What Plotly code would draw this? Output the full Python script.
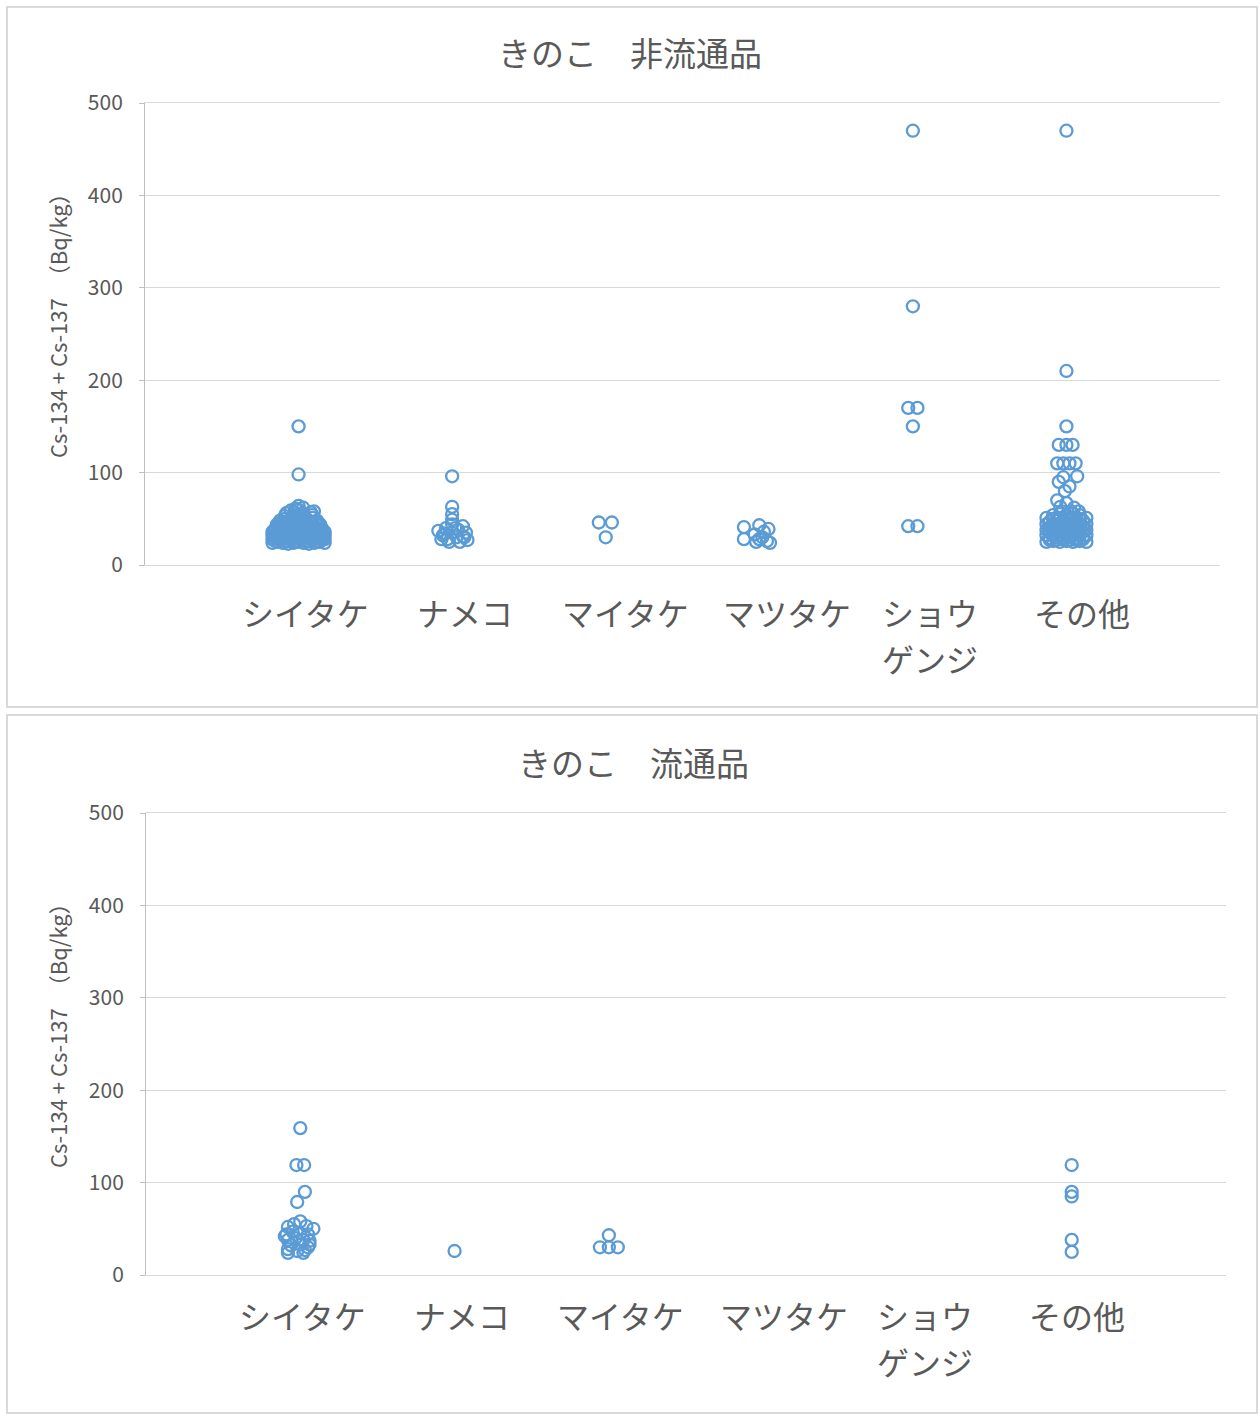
import plotly.graph_objects as go

# ---------------- data ----------------
category_labels = ["シイタケ", "ナメコ", "マイタケ", "マツタケ", "ショウ<br>ゲンジ", "その他"]
y_tick_values = [0, 100, 200, 300, 400, 500]
titles = ["きのこ　非流通品", "きのこ　流通品"]
y_title = "Cs-134 + Cs-137　（Bq/kg）"

# Top panel (非流通品): x jitter offsets (around category index) and values (Bq/kg)
top_shiitake_dx = [0, 0,
                   -0.17, -0.136, -0.102, -0.068, -0.034, 0.0, 0.034, 0.068, 0.102, 0.136, 0.17,
                   -0.153, -0.119, -0.085, -0.051, -0.017, 0.017, 0.051, 0.085, 0.119, 0.153,
                   -0.17, -0.136, -0.102, -0.068, -0.034, 0.0, 0.034, 0.068, 0.102, 0.136, 0.17,
                   -0.153, -0.119, -0.085, -0.051, -0.017, 0.017, 0.051, 0.085, 0.119, 0.153,
                   -0.17, -0.136, -0.102, -0.068, -0.034, 0.0, 0.034, 0.068, 0.102, 0.136, 0.17,
                   -0.153, -0.119, -0.085, -0.051, -0.017, 0.017, 0.051, 0.085, 0.119, 0.153,
                   -0.17, -0.136, -0.102, -0.068, -0.034, 0.0, 0.034, 0.068, 0.102, 0.136, 0.17,
                   -0.153, -0.119, -0.085, -0.051, -0.017, 0.017, 0.051, 0.085, 0.119, 0.153,
                   -0.15, -0.10, -0.05, 0.0, 0.05, 0.10, 0.15,
                   -0.125, -0.075, -0.025, 0.025, 0.075, 0.125,
                   -0.14, -0.093, -0.047, 0.0, 0.047, 0.093, 0.14,
                   -0.115, -0.069, -0.023, 0.023, 0.069, 0.115,
                   -0.12, -0.06, 0.0, 0.06, 0.12,
                   -0.09, -0.03, 0.03, 0.09,
                   -0.09, -0.03, 0.03, 0.09,
                   -0.08, -0.027, 0.027, 0.08,
                   -0.05, 0.0, 0.10,
                   -0.02, 0.03,
                   0.0]
top_shiitake_v = [150, 98,
                  24, 25, 24, 23, 24, 25, 24, 23, 24, 25, 24,
                  26, 27, 26, 27, 26, 27, 26, 27, 26, 27,
                  28, 29, 28, 29, 28, 29, 28, 29, 28, 29, 28,
                  30, 31, 30, 31, 30, 31, 30, 31, 30, 31,
                  32, 33, 32, 33, 32, 33, 32, 33, 32, 33, 32,
                  34, 35, 34, 35, 34, 35, 34, 35, 34, 35,
                  36, 37, 36, 37, 36, 37, 36, 37, 36, 37, 36,
                  38, 39, 38, 39, 38, 39, 38, 39, 38, 39,
                  40, 41, 40, 41, 40, 41, 40,
                  42, 43, 42, 43, 42, 43,
                  44, 45, 44, 45, 44, 45, 44,
                  46, 47, 46, 47, 46, 47,
                  48, 49, 48, 49, 48,
                  50, 51, 50, 51,
                  53, 54, 53, 54,
                  56, 57, 56, 57,
                  59, 60, 58,
                  61, 62,
                  64]

top_nameko_dx = [0, 0, 0, 0, 0, -0.09, -0.06, -0.03, 0.0, 0.03, 0.07, 0.09, 0.10,
                 -0.02, 0.05, -0.07, 0.04, -0.04, 0.07, -0.05, 0.02, 0.08]
top_nameko_v = [96, 63, 55, 49, 44, 37, 32, 28, 35, 30, 42, 35, 27,
                25, 25, 28, 38, 40, 31, 34, 40, 30]

top_maitake_dx = [-0.045, 0.04, 0.0]
top_maitake_v = [46, 46, 30]

top_matsutake_dx = [-0.10, -0.10, 0.0, 0.06, -0.03, 0.02, 0.05, -0.02, 0.07, 0.03, 0.0]
top_matsutake_v = [41, 28, 43, 39, 33, 30, 26, 25, 24, 36, 28]

top_shougenji_dx = [0, 0, -0.03, 0.03, 0, -0.03, 0.03]
top_shougenji_v = [470, 280, 170, 170, 150, 42, 42]

top_other_dx = [0, 0, 0,
                -0.05, 0.0, 0.04,
                -0.06, -0.02, 0.02, 0.06,
                0.07, -0.05, -0.02, 0.02, -0.01,
                -0.06, 0.0, 0.05, -0.04,
                -0.03, 0.03, 0.08,
                -0.087, -0.043, 0.0, 0.043, 0.087,
                -0.13, -0.087, -0.043, 0.0, 0.043, 0.087, 0.13,
                -0.108, -0.065, -0.022, 0.022, 0.065, 0.108,
                -0.13, -0.087, -0.043, 0.0, 0.043, 0.087, 0.13,
                -0.108, -0.065, -0.022, 0.022, 0.065, 0.108,
                -0.13, -0.087, -0.043, 0.0, 0.043, 0.087, 0.13,
                -0.108, -0.065, -0.022, 0.022, 0.065, 0.108,
                -0.13, -0.087, -0.043, 0.0, 0.043, 0.087, 0.13,
                -0.108, -0.065, -0.022, 0.022, 0.065, 0.108,
                -0.13, -0.087, -0.043, 0.0, 0.043, 0.087, 0.13,
                -0.108, -0.065, -0.022, 0.022, 0.065, 0.108]
top_other_v = [470, 210, 150,
               130, 130, 130,
               110, 110, 110, 110,
               96, 90, 95, 85, 80,
               70, 67, 62, 63,
               58, 58, 58,
               54, 55, 54, 55, 54,
               51, 50, 51, 50, 51, 50, 51,
               47, 48, 47, 48, 47, 48,
               44, 45, 44, 45, 44, 45, 44,
               41, 42, 41, 42, 41, 42,
               38, 39, 38, 39, 38, 39, 38,
               35, 36, 35, 36, 35, 36,
               32, 33, 32, 33, 32, 33, 32,
               29, 30, 29, 30, 29, 30,
               25, 26, 25, 26, 25, 26, 25,
               27, 27, 28, 27, 27, 28]

# Bottom panel (流通品)
bot_shiitake_dx = [0, -0.025, 0.025, 0.03, -0.02,
                   -0.08, -0.04, 0.0, 0.04, 0.085,
                   -0.09, -0.05, 0.0, 0.05,
                   -0.08, -0.03, 0.02, 0.06, -0.10,
                   -0.06, 0.0, 0.05, -0.08, -0.02, 0.03, -0.08, 0.02, 0.06]
bot_shiitake_v = [159, 119, 119, 90, 79,
                  52, 55, 58, 53, 50,
                  44, 47, 45, 44,
                  38, 40, 38, 37, 42,
                  32, 33, 30, 28, 26, 27, 24, 24, 33]

bot_nameko_dx = [0]
bot_nameko_v = [26]

bot_maitake_dx = [0.0, -0.058, 0.0, 0.058]
bot_maitake_v = [43, 30, 30, 30]

bot_matsutake_dx = []
bot_matsutake_v = []

bot_shougenji_dx = []
bot_shougenji_v = []

bot_other_dx = [0, 0, 0, 0, 0]
bot_other_v = [119, 90, 85, 38, 25]

top_series = [(top_shiitake_dx, top_shiitake_v), (top_nameko_dx, top_nameko_v),
              (top_maitake_dx, top_maitake_v), (top_matsutake_dx, top_matsutake_v),
              (top_shougenji_dx, top_shougenji_v), (top_other_dx, top_other_v)]
bot_series = [(bot_shiitake_dx, bot_shiitake_v), (bot_nameko_dx, bot_nameko_v),
              (bot_maitake_dx, bot_maitake_v), (bot_matsutake_dx, bot_matsutake_v),
              (bot_shougenji_dx, bot_shougenji_v), (bot_other_dx, bot_other_v)]

# ---------------- layout / style ----------------
W, H = 1260, 1414
BLUE = "#5b9bd5"
GRAY_TXT = "#595959"
GRID = "#d9d9d9"
FONT = "Noto Sans CJK JP"


def px_x(p):
    return p / W


def px_y(p):
    return 1 - p / H


fig = go.Figure()


def build_x(series):
    xs, ys = [], []
    for i, (dx, v) in enumerate(series):
        xs += [i + 1 + d for d in dx]
        ys += list(v)
    return xs, ys


for series, xa, ya in [(top_series, "x", "y"), (bot_series, "x2", "y2")]:
    xs, ys = build_x(series)
    fig.add_trace(go.Scatter(
        x=xs, y=ys, mode="markers", xaxis=xa, yaxis=ya, showlegend=False,
        marker=dict(symbol="circle-open", size=12, color=BLUE,
                    line=dict(width=2.3, color=BLUE)),
        hoverinfo="y"))

axis_common_y = dict(
    range=[0, 500], tickvals=y_tick_values, showgrid=True, gridcolor=GRID, gridwidth=1,
    zeroline=False, showline=True, linecolor="#bfbfbf", linewidth=1, mirror=False,
    ticks="outside", ticklen=5, tickcolor="#bfbfbf", automargin=False,
    tickfont=dict(family=FONT, size=21, color=GRAY_TXT), ticklabelstandoff=12,
)
axis_common_x = dict(
    range=[0, 7], showticklabels=False, showgrid=False, zeroline=False, automargin=False,
    showline=True, linecolor=GRID, linewidth=1, mirror=True, ticks="",
)

fig.update_layout(
    width=W, height=H, margin=dict(l=0, r=0, t=0, b=0, pad=0, autoexpand=False),
    paper_bgcolor="white", plot_bgcolor="white",
    xaxis=dict(domain=[px_x(145), px_x(1220)], anchor="y", **axis_common_x),
    yaxis=dict(domain=[px_y(565), px_y(103)], anchor="x", **axis_common_y),
    xaxis2=dict(domain=[px_x(146), px_x(1226)], anchor="y2", **axis_common_x),
    yaxis2=dict(domain=[px_y(1275), px_y(813)], anchor="x2", **axis_common_y),
)

# panel frames
for (y0, y1) in [(7, 707), (715, 1413)]:
    fig.add_shape(type="rect", xref="paper", yref="paper",
                  x0=px_x(7), x1=px_x(1257), y0=px_y(y1), y1=px_y(y0),
                  line=dict(color="#d9d9d9", width=2), layer="below")

# titles
for t, yc, xc in [(titles[0], 52, 630), (titles[1], 762, 633)]:
    fig.add_annotation(text=t, xref="paper", yref="paper", x=px_x(xc), y=px_y(yc),
                       xanchor="center", yanchor="middle", showarrow=False,
                       font=dict(family=FONT, size=33, color=GRAY_TXT))

# y-axis titles (rotated)
for yc in [320, 1030]:
    fig.add_annotation(text=y_title, xref="paper", yref="paper", x=px_x(57), y=px_y(yc),
                       xanchor="center", yanchor="middle", showarrow=False, textangle=-90,
                       font=dict(family=FONT, size=22, color=GRAY_TXT))

# category labels (each line placed separately, 46 px line pitch)
top_label_px = [305, 465, 625, 787, 930, 1082]
bot_label_px = [302, 462, 620, 784, 925, 1077]
for label_px, ycenter in [(top_label_px, 612), (bot_label_px, 1315)]:
    for lab, xp in zip(category_labels, label_px):
        for k, line in enumerate(lab.split("<br>")):
            fig.add_annotation(text=line, xref="paper", yref="paper", x=px_x(xp),
                               y=px_y(ycenter + 46 * k),
                               xanchor="center", yanchor="middle", showarrow=False,
                               font=dict(family=FONT, size=32, color=GRAY_TXT))

fig.write_html("out.html", config={"displayModeBar": False},
               post_script="document.body.style.margin='0';")
